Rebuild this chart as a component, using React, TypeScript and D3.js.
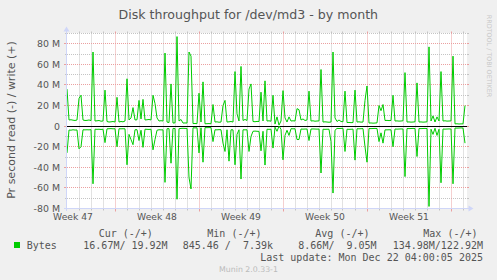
import React from "react";
import * as d3 from "d3";

const W = 497;
const H = 280;
const TITLE = "Disk throughput for /dev/md3 - by month";
const Y_TITLE = "Pr second read (-) / write (+)";
const WATERMARK = "RRDTOOL / TOBI OETIKER";
const VERSION = "Munin 2.0.33-1";
const LAST_UPDATE = "Last update: Mon Dec 22 04:00:05 2025";

// One sample every 4 hours, 200 samples over the month (values in MB/s)
const STEP_HOURS = 4;
const SPAN_HOURS = 800;
const writeMB = [
  36, 6, 6.2, 5.8, 5.5, 6, 27, 30, 6, 5.5,
  5.6, 6, 5.4, 72, 5, 5.2, 5.5, 4.8, 5, 35,
  4.5, 4, 4.2, 4.5, 4, 28, 4, 4.5, 4.2, 5,
  46, 6, 8, 18, 6, 6.2, 25, 7, 26, 6,
  6.2, 6.5, 6, 30, 22, 8, 5, 5.3, 5, 71,
  4, 3.5, 41, 3, 3.2, 87, 5, 6.5, 3, 3.1,
  3, 72, 68, 2.5, 2.6, 2.4, 32, 4, 43, 2.3,
  2.4, 2.5, 2.3, 21, 4, 4.2, 3.8, 4, 20, 25,
  4, 4.2, 4.5, 4, 53, 12, 5, 58, 5.5, 6.5,
  5.5, 36, 41, 4.5, 4.3, 4.6, 4.5, 33, 5, 44,
  5, 5.2, 4.8, 30, 2, 9, 1, 5, 34.5, 8,
  4, 9, 5, 5.2, 5, 17, 16, 6, 7, 5.5,
  6, 34, 5, 5.2, 4.8, 5, 5.1, 55, 4, 4.2,
  4, 3.8, 4, 72, 8, 4.5, 6, 4.5, 4.3, 34,
  3.5, 3.6, 3.4, 3.5, 35, 4, 4.2, 3.9, 4, 25,
  39, 3, 3.1, 2.9, 3, 3.2, 20, 15, 21, 5.5,
  5.6, 5.4, 5.5, 30, 5, 5.1, 4.9, 5, 5.2, 52,
  4, 4.1, 3.9, 4, 4.2, 42, 4, 4.1, 3.9, 4,
  4.2, 77, 5, 10, 4, 9, 5, 53, 5, 5.2,
  4.9, 5, 5.1, 68, 2.2, 2.3, 2.1, 2.2, 2.2, 20,
];
const readMB = [
  26, 3.8, 3.9, 3.5, 3.8, 3.7, 22, 20, 3.5, 3.6,
  3.5, 3.6, 3.4, 56, 3, 3.1, 3, 3.2, 3, 16,
  2.6, 2.5, 2.4, 2.6, 2.5, 20, 2.5, 2.6, 2.5, 2.6,
  37.5, 8, 13, 18, 3.5, 3.4, 14, 4, 20.6, 3,
  3.1, 3.2, 3, 23, 13, 4, 3.5, 3.6, 3.6, 54.6,
  2.5, 2.4, 36, 2.2, 2.3, 71, 2.5, 2.2, 2.1, 2.2,
  2.2, 50, 61, 1.6, 1.7, 1.6, 26, 1.6, 35, 1.4,
  1.5, 1.4, 1.4, 15, 3.5, 3.6, 3.4, 3.5, 16.5, 24.6,
  3.5, 34, 3.5, 3.6, 37.5, 8, 3.5, 51.4, 3.5, 3.6,
  3.5, 24.6, 10, 5, 4.8, 5, 5.1, 24, 5, 37.8,
  3, 3.1, 3, 21.3, 1, 5, 0, 3, 32.7, 9,
  4, 9, 2.5, 2.6, 2.5, 13, 13, 2.8, 2.9, 2.8,
  2.8, 14, 2.8, 2.7, 2.8, 2.9, 2.8, 45.5, 3, 3.1,
  3, 3, 15, 65, 4, 2.2, 2.3, 2.2, 2.1, 24.6,
  3, 3.1, 3, 2.9, 33, 2.5, 2.6, 2.5, 2.4, 20,
  35, 2.3, 2.4, 2.3, 2.2, 2.3, 15, 6.5, 16.5, 3.6,
  3.6, 3.5, 3.6, 20, 2.8, 2.9, 2.8, 2.7, 2.8, 49,
  2.3, 2.4, 2.3, 2.2, 2.3, 29.5, 2.3, 2.4, 2.3, 2.2,
  2.3, 78, 3, 8, 2, 9, 3, 55, 2.8, 2.9,
  2.8, 2.7, 2.8, 56, 1.8, 1.9, 1.8, 1.7, 1.8, 16.5,
];

const weekLabels = ["Week 47", "Week 48", "Week 49", "Week 50", "Week 51"];
const weekStartDays = [4, 11, 18, 25, 32];
const yMajorTicks = [-80, -60, -40, -20, 0, 20, 40, 60, 80];
const yTickLabels = ["-80 M", "-60 M", "-40 M", "-20 M", "0", "20 M", "40 M", "60 M", "80 M"];

const legendName = "Bytes";
const legendHeaders = ["Cur (-/+)", "Min (-/+)", "Avg (-/+)", "Max (-/+)"];
const legendValues = ["16.67M/ 19.92M", "845.46 /  7.39k", "8.66M/  9.05M", "134.98M/122.92M"];

const headerX = [98.7, 207.3, 315.3, 423.3];
const valueX = [83.3, 182.7, 298.3, 392.7];

const GREEN = "#00CC00";
const AXIS = "#CFD6F8";
const GRID = "#C4C4C4";
const MGRID = "#EBA0A0";
const FONT = "#555555";
const SANS = "'DejaVu Sans', sans-serif";
const MONO = "'DejaVu Sans Mono', monospace";

export default function App() {
  const x = d3.scaleLinear().domain([0, SPAN_HOURS]).range([67, 467]);
  const y = d3.scaleLinear().domain([-80, 90]).range([208.5, 33.5]);
  const crisp = (v: number) => Math.floor(v) + 0.5;

  const writeLine = d3
    .line<number>()
    .x((_, i) => x(i * STEP_HOURS))
    .y((d) => y(d));
  const readLine = d3
    .line<number>()
    .x((_, i) => x(i * STEP_HOURS))
    .y((d) => y(-d));

  const days = d3.range(0, Math.floor(SPAN_HOURS / 24) + 1);
  const minorY = d3.range(-70, 91, 10).filter((v) => v % 20 !== 0);
  const majorDays = new Set(weekStartDays);
  const x0 = 67, x1 = 467, yTop = 33.5, yBot = 208.5;

  return (
    <svg
      width={W}
      height={H}
      viewBox={`0 0 ${W} ${H}`}
      style={{ position: "absolute", left: 0, top: 0, display: "block" }}
    >
      <rect x={0} y={0} width={W} height={H} fill="#F0F0F0" />
      <rect x={x0} y={33} width={x1 - x0} height={175} fill="#FFFFFF" />

      {/* minor horizontal grid */}
      {minorY.map((v) => (
        <g key={`mh${v}`}>
          <line x1={x0} x2={x1} y1={crisp(y(v))} y2={crisp(y(v))} stroke={GRID} strokeWidth={1} strokeDasharray="1,1" />
          <line x1={x0 - 2} x2={x0} y1={crisp(y(v))} y2={crisp(y(v))} stroke={GRID} strokeWidth={1} />
          <line x1={x1} x2={x1 + 2} y1={crisp(y(v))} y2={crisp(y(v))} stroke={GRID} strokeWidth={1} />
        </g>
      ))}
      {/* vertical daily grid */}
      {days
        .filter((d) => !majorDays.has(d) && d > 0)
        .map((d) => (
          <g key={`vd${d}`}>
            <line x1={crisp(x(d * 24))} x2={crisp(x(d * 24))} y1={yTop} y2={yBot} stroke={GRID} strokeWidth={1} strokeDasharray="1,1" />
            <line x1={crisp(x(d * 24))} x2={crisp(x(d * 24))} y1={yBot} y2={yBot + 2} stroke={GRID} strokeWidth={1} />
            <line x1={crisp(x(d * 24))} x2={crisp(x(d * 24))} y1={yTop - 2} y2={yTop} stroke={GRID} strokeWidth={1} />
          </g>
        ))}
      {/* major horizontal grid */}
      {yMajorTicks.map((v) => (
        <g key={`MH${v}`}>
          <line x1={x0} x2={x1} y1={crisp(y(v))} y2={crisp(y(v))} stroke={MGRID} strokeWidth={1} strokeDasharray="1,1" />
          <line x1={x0 - 3} x2={x0} y1={crisp(y(v))} y2={crisp(y(v))} stroke={MGRID} strokeWidth={1} />
          <line x1={x1} x2={x1 + 2} y1={crisp(y(v))} y2={crisp(y(v))} stroke={MGRID} strokeWidth={1} />
        </g>
      ))}
      {/* major vertical grid */}
      {weekStartDays.map((d) => (
        <g key={`MV${d}`}>
          <line x1={crisp(x(d * 24))} x2={crisp(x(d * 24))} y1={yTop} y2={yBot} stroke={MGRID} strokeWidth={1} strokeDasharray="1,1" />
          <line x1={crisp(x(d * 24))} x2={crisp(x(d * 24))} y1={yBot} y2={yBot + 3} stroke={MGRID} strokeWidth={1} />
          <line x1={crisp(x(d * 24))} x2={crisp(x(d * 24))} y1={yTop - 2} y2={yTop} stroke={MGRID} strokeWidth={1} />
        </g>
      ))}

      {/* zero line */}
      <line x1={x0} x2={x1} y1={crisp(y(0))} y2={crisp(y(0))} stroke="#000000" strokeWidth={1} />

      {/* data */}
      <path d={readLine(readMB) || ""} fill="none" stroke={GREEN} strokeWidth={1} />
      <path d={writeLine(writeMB) || ""} fill="none" stroke={GREEN} strokeWidth={1} />

      {/* axes */}
      <line x1={66.5} x2={66.5} y1={211} y2={30} stroke={AXIS} strokeWidth={1} />
      <polygon points="63.5,31.5 69.5,31.5 66.5,26.5" fill={AXIS} />
      <line x1={64} x2={470} y1={208.5} y2={208.5} stroke={AXIS} strokeWidth={1} />
      <polygon points="468.5,205.5 468.5,211.5 473.5,208.5" fill={AXIS} />

      {/* y tick labels */}
      {yMajorTicks.map((v, i) => (
        <text key={`yl${v}`} x={60} y={crisp(y(v)) + 3.3} textAnchor="end" fontFamily={SANS} fontSize={9.4} fill={FONT}>
          {yTickLabels[i]}
        </text>
      ))}
      {/* x labels */}
      {weekLabels.map((lab, i) => (
        <text key={lab} x={x((weekStartDays[i] - 3.5) * 24)} y={220} textAnchor="middle" fontFamily={SANS} fontSize={9.2} fill={FONT}>
          {lab}
        </text>
      ))}

      {/* titles */}
      <text x={248.3} y={18.5} textAnchor="middle" fontFamily={SANS} fontSize={12.6} fill={FONT}>
        {TITLE}
      </text>
      <text
        transform="translate(14.5,120) rotate(-90)"
        textAnchor="middle"
        fontFamily={SANS}
        fontSize={11}
        fill={FONT}
      >
        {Y_TITLE}
      </text>
      <text
        transform="translate(487,56) rotate(90)"
        textAnchor="middle"
        fontFamily={SANS}
        fontSize={6.4}
        fill="#C8C8C8"
      >
        {WATERMARK}
      </text>

      {/* legend */}
      {legendHeaders.map((h, i) => (
        <text key={h} x={headerX[i]} y={237} fontFamily={MONO} fontSize={10} fill={FONT} style={{ whiteSpace: "pre" }}>
          {h}
        </text>
      ))}
      <rect x={14} y={242} width={6} height={6} fill={GREEN} />
      <text x={26.7} y={249} fontFamily={MONO} fontSize={10} fill={FONT}>
        {legendName}
      </text>
      {legendValues.map((v, i) => (
        <text key={`lv${i}`} x={valueX[i]} y={249} fontFamily={MONO} fontSize={10} fill={FONT} style={{ whiteSpace: "pre" }}>
          {v}
        </text>
      ))}
      <text x={483} y={261.3} textAnchor="end" fontFamily={MONO} fontSize={10} fill={FONT} style={{ whiteSpace: "pre" }}>
        {LAST_UPDATE}
      </text>
      <text x={248.5} y={272} textAnchor="middle" fontFamily={SANS} fontSize={7.8} fill="#BBBBBB">
        {VERSION}
      </text>
    </svg>
  );
}
